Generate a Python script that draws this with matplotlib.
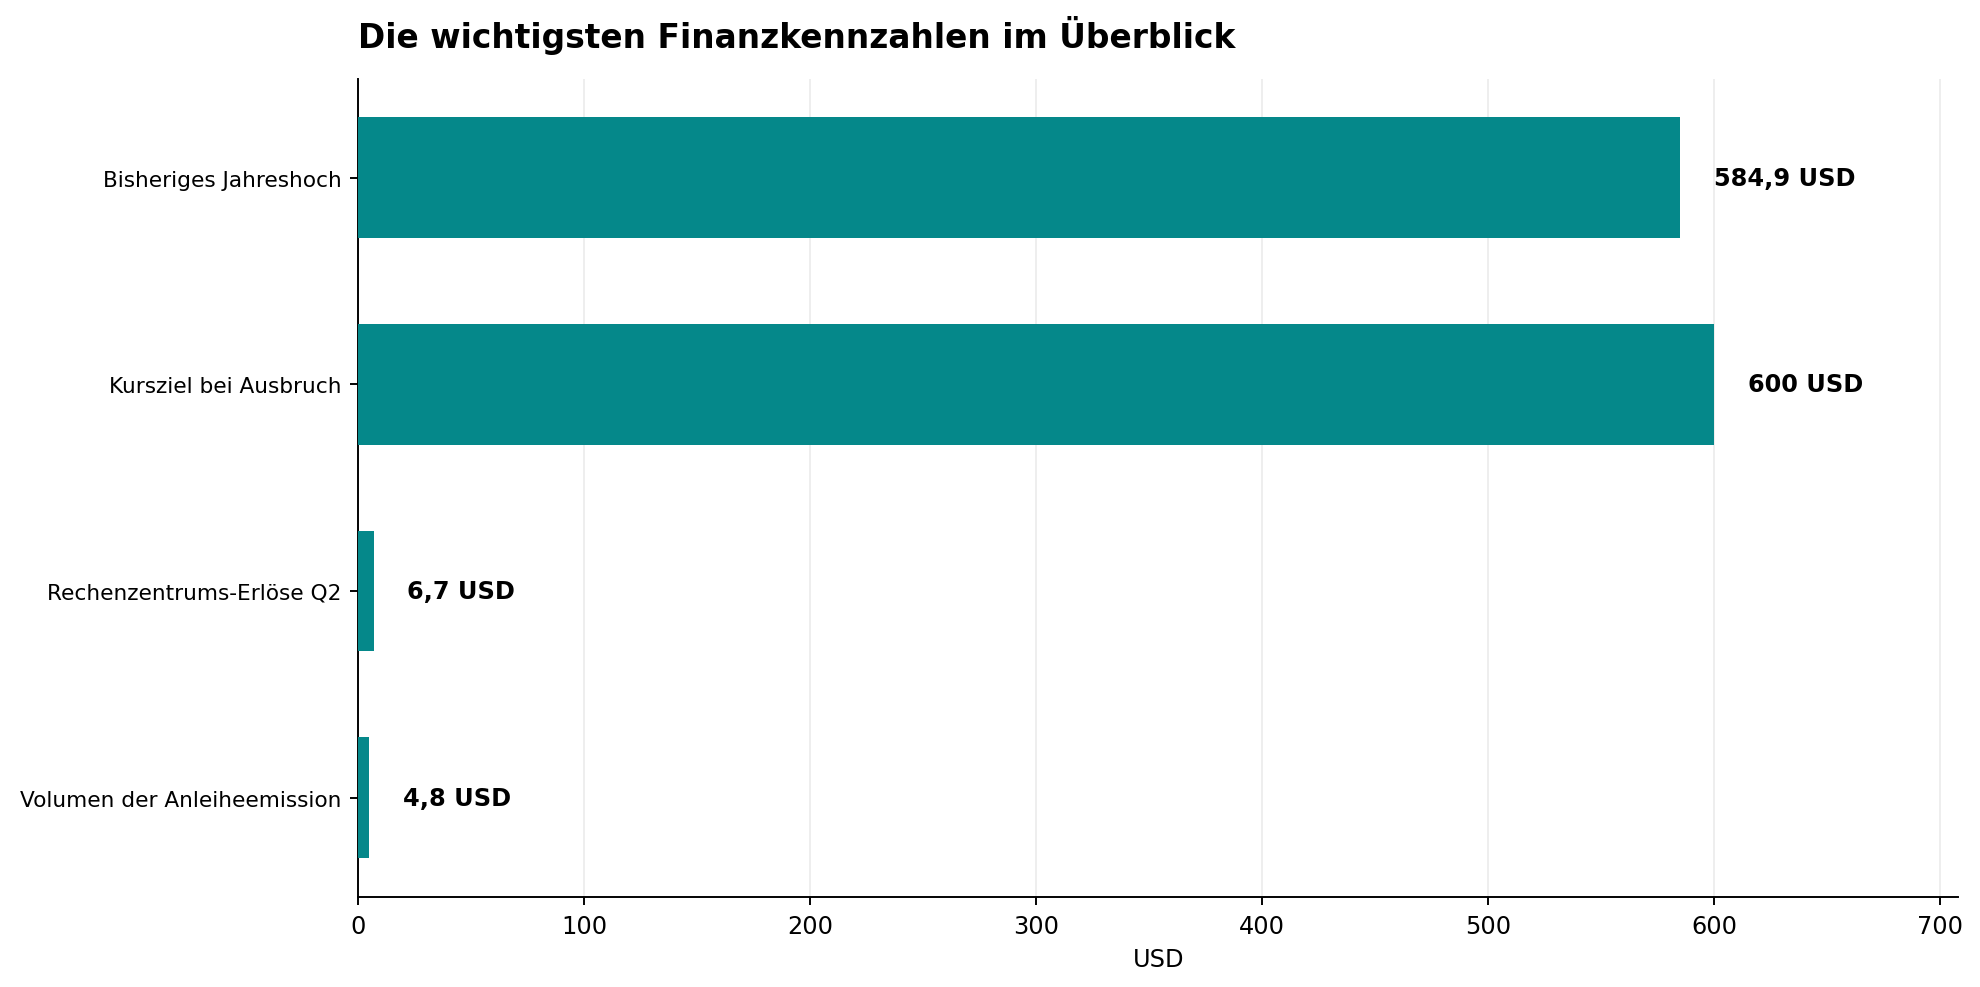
import matplotlib
matplotlib.use("Agg")
import matplotlib.pyplot as plt

categories = ["Bisheriges Jahreshoch", "Kursziel bei Ausbruch",
              "Rechenzentrums-Erlöse Q2", "Volumen der Anleiheemission"]
values = [584.9, 600, 6.7, 4.8]
value_labels = ["584,9 USD", "600 USD", "6,7 USD", "4,8 USD"]

DPI = 173
fig = plt.figure(figsize=(1980 / DPI, 988 / DPI), dpi=DPI)
ax = fig.add_axes([0.181, 0.0913, 0.808, 0.8282])

ypos = list(range(len(categories)))
ax.barh(ypos, values, height=0.585, color="#05888a", zorder=3)
ax.set_yticks(ypos)
ax.set_yticklabels(categories, fontsize=9)
ax.set_ylim(3.48, -0.48)

for y, v, lab in zip(ypos, values, value_labels):
    ax.text(v + 15, y, lab, ha="left", va="center", fontsize=10, fontweight="bold")

ax.set_xlim(0, 708)
ax.set_xticks([0, 100, 200, 300, 400, 500, 600, 700])
ax.tick_params(axis="x", labelsize=10)
ax.set_xlabel("USD", fontsize=10)
ax.grid(axis="x", color="#ebebeb", linewidth=0.7, zorder=0)
ax.spines["top"].set_visible(False)
ax.spines["right"].set_visible(False)
ax.set_title("Die wichtigsten Finanzkennzahlen im Überblick", loc="left",
             fontsize=13.7, fontweight="bold", pad=13)

fig.savefig("out.png", dpi=DPI)
